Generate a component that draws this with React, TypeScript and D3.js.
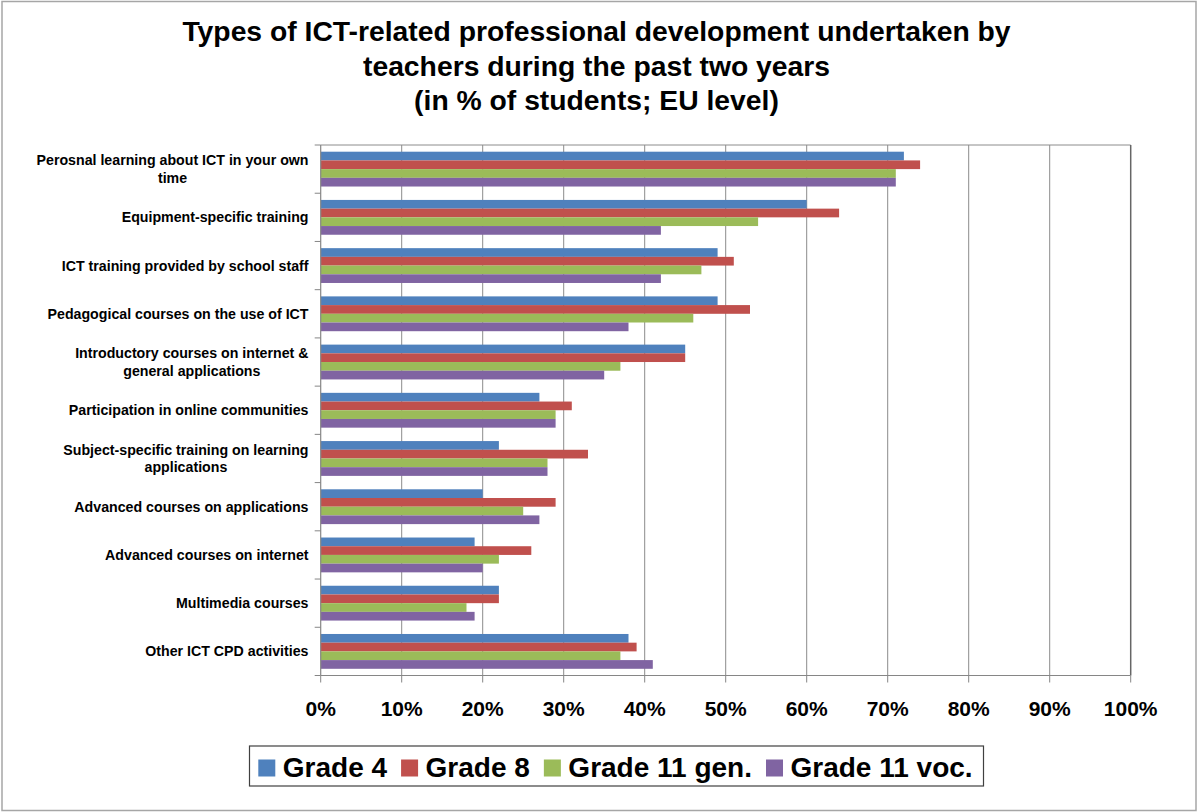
import React, { useEffect, useRef } from "react";
import * as d3 from "d3";

const categories: string[] = [
  "Perosnal learning about ICT in your own\ntime",
  "Equipment-specific training",
  "ICT training provided by school staff",
  "Pedagogical courses on the use of ICT",
  "Introductory courses on internet &\ngeneral applications",
  "Participation in online communities",
  "Subject-specific training on learning\napplications",
  "Advanced courses on applications",
  "Advanced courses on internet",
  "Multimedia courses",
  "Other ICT CPD activities",
];

const seriesNames: string[] = ["Grade 4", "Grade 8", "Grade 11 gen.", "Grade 11 voc."];
const seriesColors: string[] = ["#4F81BD", "#C0504D", "#9BBB59", "#8064A2"];

const grade4: number[] = [72, 60, 49, 49, 45, 27, 22, 20, 19, 22, 38];
const grade8: number[] = [74, 64, 51, 53, 45, 31, 33, 29, 26, 22, 39];
const grade11gen: number[] = [71, 54, 47, 46, 37, 29, 28, 25, 22, 18, 37];
const grade11voc: number[] = [71, 42, 42, 38, 35, 29, 28, 27, 20, 19, 41];

const xTicks: number[] = [0, 10, 20, 30, 40, 50, 60, 70, 80, 90, 100];

const titleLines: string[] = [
  "Types of ICT-related professional development undertaken by",
  "teachers during the past two years",
  "(in % of students; EU level)",
];

const W = 1198;
const H = 812;
const FONT = "Arial, 'Liberation Sans', Helvetica, sans-serif";

export default function App() {
  const ref = useRef<SVGSVGElement | null>(null);

  useEffect(() => {
    document.body.style.margin = "0";
    const svg = d3.select(ref.current);
    svg.selectAll("*").remove();

    const series = [grade4, grade8, grade11gen, grade11voc];

    const left = 320.7;
    const right = 1130.7;
    const top = 145;
    const bottom = 675.5;

    svg.append("rect").attr("x", 0).attr("y", 0).attr("width", W).attr("height", H).attr("fill", "#fff");
    svg
      .append("rect")
      .attr("x", 2)
      .attr("y", 1.5)
      .attr("width", 1194)
      .attr("height", 809)
      .attr("fill", "none")
      .attr("stroke", "#a6a6a6")
      .attr("stroke-width", 1.5);

    const title = svg
      .append("text")
      .attr("text-anchor", "middle")
      .attr("font-family", FONT)
      .attr("font-weight", "bold")
      .attr("font-size", 28.3)
      .attr("fill", "#000");
    titleLines.forEach((t, i) => {
      title.append("tspan").attr("x", 596.5).attr("y", 41 + i * 34.5).text(t);
    });

    const x = d3.scaleLinear().domain([0, 100]).range([left, right]);
    const y = d3
      .scaleBand<number>()
      .domain(d3.range(categories.length))
      .range([top, bottom])
      .paddingInner(0.278)
      .paddingOuter(0.139);
    const ySub = d3.scaleBand<number>().domain(d3.range(series.length)).range([0, y.bandwidth()]).padding(0);

    const step = y.step();

    svg
      .append("g")
      .selectAll("line")
      .data(xTicks.filter((t) => t > 0 && t < 100))
      .join("line")
      .attr("x1", (d) => x(d))
      .attr("x2", (d) => x(d))
      .attr("y1", top)
      .attr("y2", bottom)
      .attr("stroke", "#8c8c8c")
      .attr("stroke-width", 1);

    svg
      .append("line")
      .attr("x1", left)
      .attr("x2", right)
      .attr("y1", top)
      .attr("y2", top)
      .attr("stroke", "#8c8c8c")
      .attr("stroke-width", 1);
    svg
      .append("line")
      .attr("x1", right)
      .attr("x2", right)
      .attr("y1", top)
      .attr("y2", bottom)
      .attr("stroke", "#666")
      .attr("stroke-width", 1.5);

    const gBars = svg.append("g");
    series.forEach((vals, si) => {
      gBars
        .append("g")
        .selectAll("rect")
        .data(vals)
        .join("rect")
        .attr("x", x(0))
        .attr("y", (_d, i) => (y(i) as number) + (ySub(si) as number))
        .attr("width", (d) => x(d) - x(0))
        .attr("height", ySub.bandwidth())
        .attr("fill", seriesColors[si]);
    });

    svg
      .append("line")
      .attr("x1", left)
      .attr("x2", left)
      .attr("y1", top)
      .attr("y2", bottom)
      .attr("stroke", "#868686")
      .attr("stroke-width", 1.2);
    svg
      .append("line")
      .attr("x1", left)
      .attr("x2", right)
      .attr("y1", bottom)
      .attr("y2", bottom)
      .attr("stroke", "#868686")
      .attr("stroke-width", 1.2);

    svg
      .append("g")
      .selectAll("line")
      .data(d3.range(categories.length + 1))
      .join("line")
      .attr("x1", left - 6)
      .attr("x2", left)
      .attr("y1", (d) => top + d * step)
      .attr("y2", (d) => top + d * step)
      .attr("stroke", "#868686")
      .attr("stroke-width", 1);

    svg
      .append("g")
      .selectAll("line")
      .data(xTicks)
      .join("line")
      .attr("x1", (d) => x(d))
      .attr("x2", (d) => x(d))
      .attr("y1", bottom)
      .attr("y2", bottom + 7)
      .attr("stroke", "#868686")
      .attr("stroke-width", 1);

    svg
      .append("g")
      .selectAll("text")
      .data(xTicks)
      .join("text")
      .attr("x", (d) => x(d))
      .attr("y", 716)
      .attr("text-anchor", "middle")
      .attr("font-family", FONT)
      .attr("font-weight", "bold")
      .attr("font-size", 21)
      .attr("fill", "#000")
      .text((d) => d + "%");

    const labelRight = 308.5;
    const lineH = 17.6;
    categories.forEach((c, i) => {
      const lines = c.split("\n");
      const cy = (y(i) as number) + y.bandwidth() / 2;
      const t = svg
        .append("text")
        .attr("font-family", FONT)
        .attr("font-weight", "bold")
        .attr("font-size", 14.2)
        .attr("fill", "#000")
        .attr("text-anchor", "middle");
      const spans = lines.map((ln, li) =>
        t
          .append("tspan")
          .attr("y", cy + (li - (lines.length - 1) / 2) * lineH + 5)
          .text(ln)
      );
      let maxW = 0;
      spans.forEach((s) => {
        const w = (s.node() as SVGTSpanElement).getComputedTextLength();
        if (w > maxW) maxW = w;
      });
      spans.forEach((s) => s.attr("x", labelRight - maxW / 2));
    });

    const lg = svg.append("g");
    const boxX = 249.5;
    const boxW = 734;
    lg.append("rect")
      .attr("x", boxX)
      .attr("y", 746)
      .attr("width", boxW)
      .attr("height", 40)
      .attr("fill", "#fff")
      .attr("stroke", "#404040")
      .attr("stroke-width", 1.2);
    const sw = 17;
    const gapSwText = 7.5;
    const gapItems = 14;
    const items = seriesNames.map((n, i) => {
      const g = lg.append("g");
      g.append("rect").attr("width", sw).attr("height", sw).attr("y", 768 - sw / 2).attr("fill", seriesColors[i]);
      const tx = g
        .append("text")
        .attr("y", 777)
        .attr("font-family", FONT)
        .attr("font-weight", "bold")
        .attr("font-size", 28)
        .attr("fill", "#000")
        .text(n);
      const w = (tx.node() as SVGTextElement).getComputedTextLength();
      return { g, tx, w };
    });
    let cx = 258.3;
    items.forEach((it) => {
      it.g.select("rect").attr("x", cx);
      it.tx.attr("x", cx + sw + gapSwText);
      cx += sw + gapSwText + it.w + gapItems;
    });
  }, []);

  return (
    <svg
      ref={ref}
      width={W}
      height={H}
      style={{ position: "absolute", left: 0, top: 0, display: "block" }}
    />
  );
}
